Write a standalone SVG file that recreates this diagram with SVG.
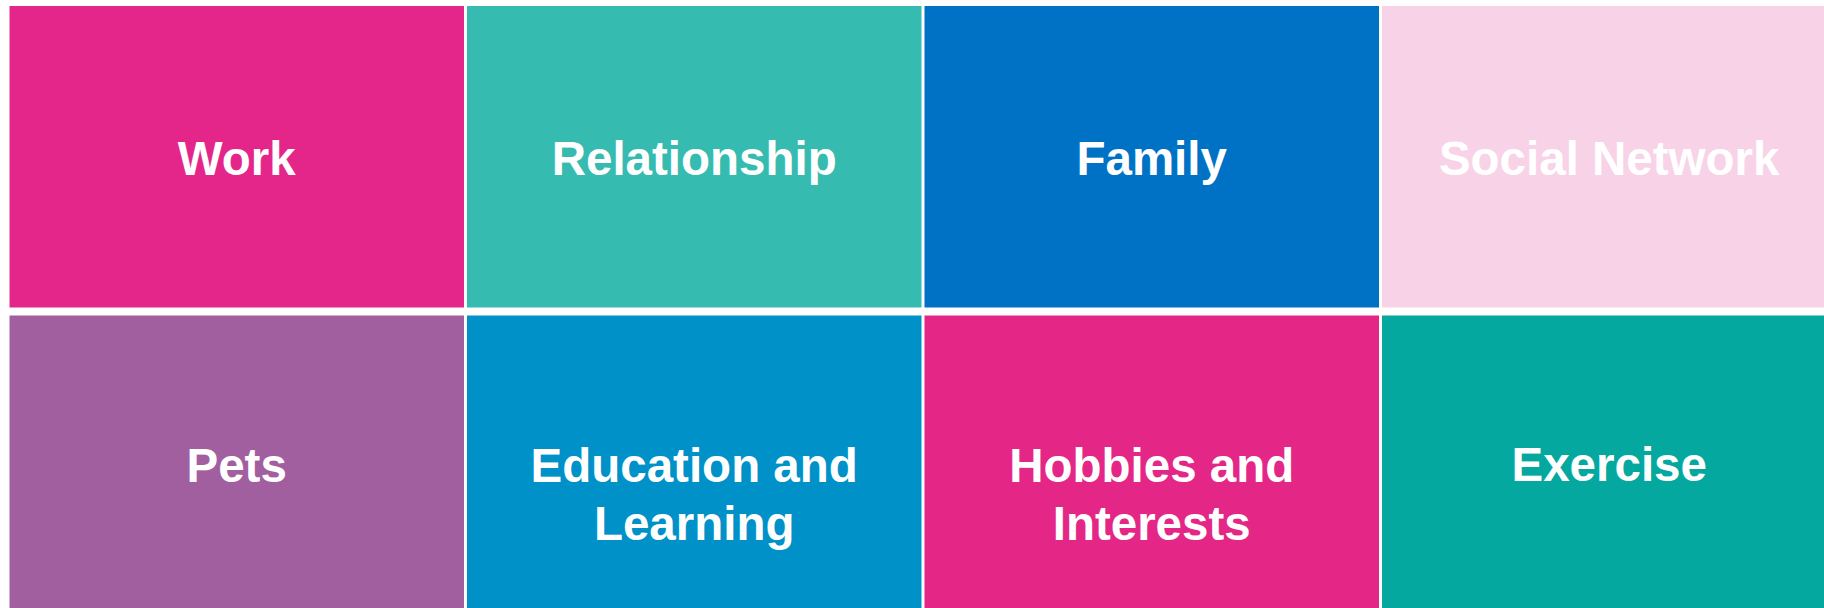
<svg xmlns="http://www.w3.org/2000/svg" width="1824" height="608" viewBox="0 0 1824 608">
<style>
text{font-family:"Liberation Sans",Arial,sans-serif;font-weight:bold;font-size:47.5px;fill:#FFFFFF;text-anchor:middle}
</style>
<rect width="1824" height="608" fill="#FFFFFF"/>
<g id="work"><rect x="9.5" y="6" width="454.5" height="301.5" fill="#E4268A"/><text x="236.7" y="175">Work</text></g>
<g id="relationship"><rect x="467" y="6" width="454.5" height="301.5" fill="#36BBB1"/><text x="694.2" y="175">Relationship</text></g>
<g id="family"><rect x="924.5" y="6" width="454.5" height="301.5" fill="#0072C6"/><text x="1151.7" y="175">Family</text></g>
<g id="social-network"><rect x="1382" y="6" width="454.5" height="301.5" fill="#F8D3E8"/><text x="1609.2" y="175">Social Network</text></g>
<g id="pets"><rect x="9.5" y="315.5" width="454.5" height="301.5" fill="#A25FA0"/><text x="236.7" y="482">Pets</text></g>
<g id="education"><rect x="467" y="315.5" width="454.5" height="301.5" fill="#0091C8"/><text x="694.2" y="482">Education and</text><text x="694.2" y="540">Learning</text></g>
<g id="hobbies"><rect x="924.5" y="315.5" width="454.5" height="301.5" fill="#E42686"/><text x="1151.7" y="482">Hobbies and</text><text x="1151.7" y="540">Interests</text></g>
<g id="exercise"><rect x="1382" y="315.5" width="454.5" height="301.5" fill="#05A89F"/><text x="1609.2" y="481">Exercise</text></g>
<g id="connectors"></g>
</svg>
